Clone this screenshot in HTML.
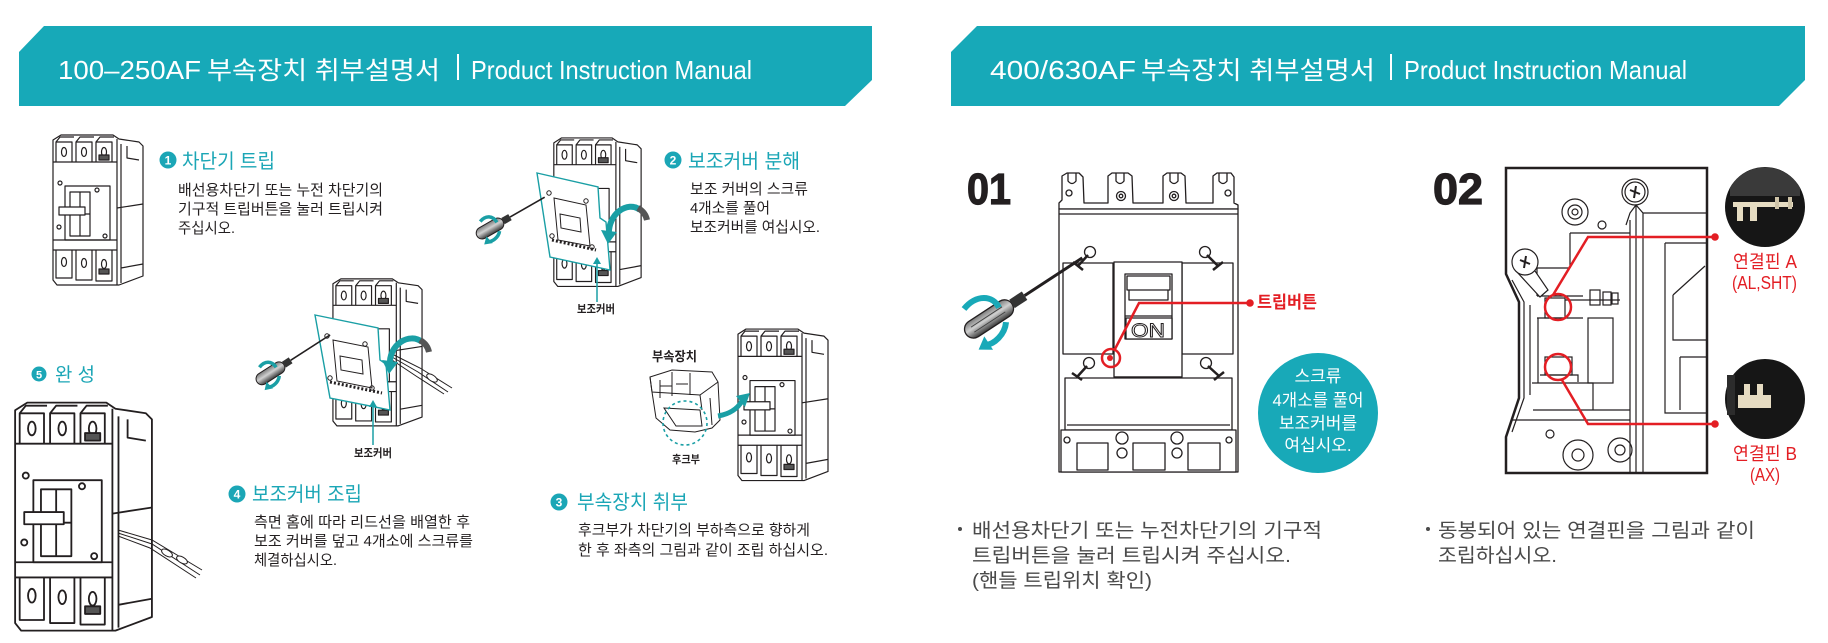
<!DOCTYPE html>
<html><head><meta charset="utf-8">
<style>
html,body{margin:0;padding:0;background:#fff;width:1828px;height:643px;overflow:hidden}
svg{display:block}
text{font-family:"Liberation Sans","Noto Sans CJK KR",sans-serif}
</style></head>
<body>
<svg width="1828" height="643" viewBox="0 0 1828 643" xmlns="http://www.w3.org/2000/svg">
<defs>
<linearGradient id="hg" x1="0" y1="0" x2="0" y2="1">
<stop offset="0" stop-color="#7a7a7a"/><stop offset="0.45" stop-color="#d0d0d0"/><stop offset="1" stop-color="#3a3a3a"/>
</linearGradient>
<g id="brk" fill="none" stroke="#231f20" stroke-width="1.2" stroke-linejoin="round">
<path fill="#fff" d="M6,12 L14,7 L66,7 L72,11 L92,14 L96,18 L96,148 L72,157 L10,157 L6,152 Z"/>
<path d="M70,11 L70,157 M6,34 L70,34 M6,112 L70,112 M6,122 L70,122"/>
<path d="M9,34 L9,14 L25,14 L25,34 M29,34 L29,14 L45,14 L45,34 M49,34 L49,14 L65,14 L65,34"/>
<path d="M9,14 L13,9 L27,9 M29,14 L33,9 L47,9 M49,14 L53,9 L67,9"/>
<ellipse cx="17" cy="24" rx="2.5" ry="4.5"/><ellipse cx="37" cy="24" rx="2.5" ry="4.5"/><ellipse cx="57" cy="24" rx="2.5" ry="4.5"/>
<rect x="18" y="58" width="45" height="54"/>
<rect x="23" y="64" width="20" height="44"/>
<path d="M23,86 L43,86 M33,64 L33,108"/>
<rect x="12" y="79" width="26" height="8" fill="#fff"/>
<circle cx="13" cy="55" r="2"/><circle cx="50" cy="62" r="2"/><circle cx="12" cy="99" r="2"/><circle cx="58" cy="108" r="2"/>
<path d="M9,122 L9,150 L25,150 L25,122 M29,122 L29,152 L45,152 L45,122 M49,122 L49,153 L65,153 L65,122"/>
<ellipse cx="17" cy="134" rx="2.5" ry="4.5"/><ellipse cx="37" cy="135" rx="2.5" ry="4.5"/><ellipse cx="57" cy="136" rx="2.5" ry="4.5"/>
<path d="M70,80 L96,76 M74,16 L74,155 M80,18 L80,30 L92,32 M74,140 L96,136"/>
<rect x="52" y="27" width="10" height="5" fill="#555"/>
<rect x="52" y="141" width="10" height="5" fill="#555"/>
</g>
</defs>

<!-- Banners -->
<path d="M44,26 L872,26 L872,80 L845,106 L19,106 L19,52 Z" fill="#17a9b8"/>
<path d="M977,26 L1805,26 L1805,80 L1779,106 L951,106 L951,52 Z" fill="#17a9b8"/>
<g fill="#fff" font-size="26">
<text x="58" y="79" textLength="143" lengthAdjust="spacingAndGlyphs">100–250AF</text>
<text x="207" y="79" font-size="25" textLength="233" lengthAdjust="spacingAndGlyphs">부속장치 취부설명서</text>
<rect x="457" y="54" width="2" height="26"/>
<text x="471" y="79" textLength="281" lengthAdjust="spacingAndGlyphs">Product Instruction Manual</text>
<text x="990" y="79" textLength="146" lengthAdjust="spacingAndGlyphs">400/630AF</text>
<text x="1141" y="79" font-size="25" textLength="234" lengthAdjust="spacingAndGlyphs">부속장치 취부설명서</text>
<rect x="1390" y="54" width="2" height="26"/>
<text x="1404" y="79" textLength="283" lengthAdjust="spacingAndGlyphs">Product Instruction Manual</text>
</g>

<!-- Breakers left -->
<use href="#brk" transform="translate(47,128)"/>
<use href="#brk" transform="translate(548,131) scale(0.97,0.99)"/>
<use href="#brk" transform="translate(732,322) scale(1,1.01)"/>
<use href="#brk" transform="translate(327,272) scale(0.99,0.98)"/>
<use href="#brk" transform="translate(6,392) scale(1.52,1.52)"/>

<!-- breaker 5 wires -->
<g fill="none" stroke="#231f20" stroke-width="1">
<path d="M118,530 L152,540 L202,570 M118,533 L152,544 L200,575 M118,536 L150,548 L196,578"/>
<ellipse cx="167" cy="553" rx="6" ry="3" transform="rotate(30 167 553)" fill="#fff"/>
<ellipse cx="182" cy="560" rx="6" ry="3" transform="rotate(30 182 560)" fill="#fff"/>
</g>

<!-- breaker 2 plate -->
<polygon points="537,173 598,187 600,218 606,222 610,270 550,257" fill="#fff" stroke="#1a9fa5" stroke-width="1.4"/>
<g fill="none" stroke="#231f20" stroke-width="1">
<polygon points="554,198 586,205 590,246 558,240"/>
<path d="M560,214 L580,218 L581,232 L561,228 Z"/>
<path d="M552,240 L596,250" stroke-width="3" stroke-dasharray="2,2"/>
<circle cx="549" cy="193" r="2.2"/><circle cx="586" cy="201" r="2.2"/><circle cx="552" cy="236" r="2.2"/><circle cx="592" cy="247" r="2.2"/>
</g>
<path d="M597,260 L597,302" stroke="#1a9fa5" stroke-width="1.5"/>
<polygon points="593,264 601,264 597,257" fill="#1a9fa5"/>
<!-- breaker 2 curved arrow -->
<path d="M609,236 C607,214 628,200 640,210" fill="none" stroke="#1a9fa5" stroke-width="6"/>
<path d="M638,208 C643,211 646,215 647,220" fill="none" stroke="#555" stroke-width="6"/>
<polygon points="601,230 617,232 608,244" fill="#1a9fa5"/>
<!-- breaker 2 screwdriver -->
<g transform="translate(477,236) rotate(-29.8)">
<rect x="0" y="-6" width="30" height="12" rx="6" fill="url(#hg)" stroke="#231f20" stroke-width="1"/>
<rect x="30" y="-3.5" width="8" height="7" fill="#333"/>
<line x1="38" y1="0" x2="78" y2="0" stroke="#231f20" stroke-width="1.6"/>
<path d="M10,-11 C18,-14 24,-10 24,-2" fill="none" stroke="#1a9fa5" stroke-width="3.5"/>
<path d="M22,7 C18,12 10,13 6,10" fill="none" stroke="#1a9fa5" stroke-width="3.5"/>
<polygon points="8,5 2,11 10,14" fill="#1a9fa5"/>
</g>
<!-- label 보조커버 -->
<text x="577" y="313" font-size="11.5" font-weight="bold" fill="#231f20" textLength="38" lengthAdjust="spacingAndGlyphs">보조커버</text>

<!-- breaker 4 plate -->
<polygon points="315,315 378,328 380,360 386,364 390,410 330,398" fill="#fff" stroke="#1a9fa5" stroke-width="1.4"/>
<g fill="none" stroke="#231f20" stroke-width="1">
<polygon points="333,340 368,347 372,388 337,381"/>
<path d="M340,356 L362,360 L363,374 L341,370 Z"/>
<path d="M330,382 L382,393" stroke-width="3" stroke-dasharray="2,2"/>
<circle cx="327" cy="336" r="2.2"/><circle cx="365" cy="344" r="2.2"/><circle cx="330" cy="378" r="2.2"/><circle cx="372" cy="388" r="2.2"/>
<path d="M392,354 L420,368 L452,388 M392,357 L418,372 L448,392 M392,360 L416,376 L444,394"/>
<ellipse cx="432" cy="378" rx="6" ry="3" transform="rotate(33 432 378)" fill="#fff"/>
</g>
<path d="M373,403 L373,445" stroke="#1a9fa5" stroke-width="1.5"/>
<polygon points="369,407 377,407 373,400" fill="#1a9fa5"/>
<path d="M390,366 C388,344 410,332 422,342" fill="none" stroke="#1a9fa5" stroke-width="6"/>
<path d="M420,340 C425,343 428,347 429,352" fill="none" stroke="#555" stroke-width="6"/>
<polygon points="382,360 398,362 389,374" fill="#1a9fa5"/>
<g transform="translate(257,382) rotate(-32.8)">
<rect x="0" y="-6" width="32" height="12" rx="6" fill="url(#hg)" stroke="#231f20" stroke-width="1"/>
<rect x="32" y="-3.5" width="8" height="7" fill="#333"/>
<line x1="40" y1="0" x2="87" y2="0" stroke="#231f20" stroke-width="1.6"/>
<path d="M10,-11 C18,-14 24,-10 24,-2" fill="none" stroke="#1a9fa5" stroke-width="3.5"/>
<path d="M22,7 C18,12 10,13 6,10" fill="none" stroke="#1a9fa5" stroke-width="3.5"/>
<polygon points="8,5 2,11 10,14" fill="#1a9fa5"/>
</g>
<text x="354" y="457" font-size="11.5" font-weight="bold" fill="#231f20" textLength="38" lengthAdjust="spacingAndGlyphs">보조커버</text>

<!-- accessory (step 3) -->
<text x="652" y="361" font-size="13" font-weight="bold" fill="#231f20" textLength="45" lengthAdjust="spacingAndGlyphs">부속장치</text>
<g fill="#fff" stroke="#231f20" stroke-width="1">
<polygon points="650,377 672,370 712,372 718,382 720,420 712,428 695,432 670,430 656,418 652,392"/>
<path d="M650,377 L652,392 L700,395 L718,382 M660,380 L660,398 M672,372 L672,396 M690,373 L690,395 M660,386 L672,386 M676,384 L688,384" fill="none"/>
<path d="M664,408 L700,410 L702,426 L676,426 Z"/>
<path d="M700,395 L702,410 M710,398 L712,425" fill="none"/>
</g>
<circle cx="685" cy="423" r="22" fill="none" stroke="#1a9fa5" stroke-width="1.6" stroke-dasharray="3,3"/>
<path d="M718,416 C730,414 738,408 742,401" fill="none" stroke="#1a9fa5" stroke-width="5"/>
<polygon points="736,396 750,393 745,407" fill="#1a9fa5"/>
<text x="672" y="463" font-size="11" font-weight="bold" fill="#231f20" textLength="28" lengthAdjust="spacingAndGlyphs">후크부</text>

<!-- step titles -->
<g fill="#1ba6b6" font-size="20">
<circle cx="168" cy="160" r="8.5"/><circle cx="673" cy="160" r="8.5"/><circle cx="559" cy="502" r="8.5"/><circle cx="237" cy="494" r="8.5"/><circle cx="39" cy="374" r="7.5"/>
<text x="182" y="168" textLength="93" lengthAdjust="spacingAndGlyphs">차단기 트립</text>
<text x="688" y="168" textLength="112" lengthAdjust="spacingAndGlyphs">보조커버 분해</text>
<text x="577" y="509" textLength="111" lengthAdjust="spacingAndGlyphs">부속장치 취부</text>
<text x="252" y="501" textLength="110" lengthAdjust="spacingAndGlyphs">보조커버 조립</text>
<text x="55" y="381" font-size="19" textLength="40" lengthAdjust="spacingAndGlyphs">완 성</text>
</g>
<g fill="#fff" font-size="12" font-weight="bold" text-anchor="middle">
<text x="168" y="164.5">1</text><text x="673" y="164.5">2</text><text x="559" y="506.5">3</text><text x="237" y="498.5">4</text><text x="39" y="378.5" font-size="11">5</text>
</g>

<!-- body texts -->
<g fill="#231f20" font-size="15">
<text x="178" y="195" textLength="205" lengthAdjust="spacingAndGlyphs">배선용차단기 또는 누전 차단기의</text>
<text x="178" y="214" textLength="205" lengthAdjust="spacingAndGlyphs">기구적 트립버튼을 눌러 트립시켜</text>
<text x="178" y="233" textLength="57" lengthAdjust="spacingAndGlyphs">주십시오.</text>
<text x="690" y="194" textLength="118" lengthAdjust="spacingAndGlyphs">보조 커버의 스크류</text>
<text x="690" y="213" textLength="80" lengthAdjust="spacingAndGlyphs">4개소를 풀어</text>
<text x="690" y="232" textLength="130" lengthAdjust="spacingAndGlyphs">보조커버를 여십시오.</text>
<text x="578" y="535" textLength="232" lengthAdjust="spacingAndGlyphs">후크부가 차단기의 부하측으로 향하게</text>
<text x="578" y="555" textLength="250" lengthAdjust="spacingAndGlyphs">한 후 좌측의 그림과 같이 조립 하십시오.</text>
<text x="254" y="527" textLength="216" lengthAdjust="spacingAndGlyphs">측면 홈에 따라 리드선을 배열한 후</text>
<text x="254" y="546" textLength="219" lengthAdjust="spacingAndGlyphs">보조 커버를 덮고 4개소에 스크류를</text>
<text x="254" y="565" textLength="83" lengthAdjust="spacingAndGlyphs">체결하십시오.</text>
</g>

<!-- 01 -->
<text x="967" y="204" font-size="44" font-weight="bold" fill="#231f20" stroke="#231f20" stroke-width="1.2" textLength="44" lengthAdjust="spacingAndGlyphs">01</text>
<g fill="#fff" stroke="#231f20" stroke-width="1.3" stroke-linejoin="round">
<path d="M1059,209 L1059,203 L1062,200 L1062,176 L1067,173 L1079,173 L1083,177 L1084,203 L1108,203 L1108,176 L1112,173 L1128,173 L1132,176 L1133,203 L1163,203 L1163,176 L1167,173 L1181,173 L1185,176 L1186,203 L1213,203 L1213,176 L1217,173 L1231,173 L1234,177 L1234,203 L1238,205 L1238,209 Z"/>
<path d="M1068,173 L1068,181 Q1072,186 1076,181 L1076,173 M1116,173 L1116,181 Q1120,186 1124,181 L1124,173 M1170,173 L1170,181 Q1174,186 1178,181 L1178,173 M1219,173 L1219,181 Q1223,186 1227,181 L1227,173" fill="none"/>
<circle cx="1121" cy="196" r="4.5"/><circle cx="1121" cy="196" r="1.8"/><circle cx="1174" cy="196" r="4.5"/><circle cx="1174" cy="196" r="1.8"/>
<circle cx="1069" cy="193" r="3"/><circle cx="1228" cy="193" r="3"/>
<rect x="1059" y="209" width="179" height="263"/>
<path d="M1059,214 L1238,214" fill="none"/>
<rect x="1063" y="263" width="50" height="91"/>
<rect x="1182" y="263" width="51" height="91"/>
<rect x="1114" y="262" width="68" height="115"/>
<rect x="1125" y="274" width="47" height="65"/>
<rect x="1127" y="276" width="43" height="14"/>
<path d="M1129,290 L1129,300 L1168,300 L1168,290 M1125,316 L1172,316" fill="none"/>
<rect x="1126" y="318" width="46" height="21"/>
<rect x="1065" y="378" width="167" height="52"/>
<path d="M1067,425 L1230,425 M1114,377 L1182,377" fill="none"/>
<rect x="1061" y="430" width="175" height="42"/>
<rect x="1077" y="443" width="31" height="27"/>
<rect x="1133" y="443" width="32" height="27"/>
<rect x="1188" y="443" width="32" height="27"/>
<circle cx="1122" cy="438" r="6"/><circle cx="1122" cy="453" r="5"/><circle cx="1177" cy="438" r="6"/><circle cx="1177" cy="453" r="5"/>
<circle cx="1067" cy="440" r="3"/><circle cx="1229" cy="440" r="3"/>
<circle cx="1090" cy="252" r="5.5"/><circle cx="1205" cy="252" r="5.5"/><circle cx="1089" cy="363" r="5.5"/><circle cx="1206" cy="363" r="5.5"/>
<path d="M1088,255 L1078,266 M1073,262 L1083,270 M1207,255 L1218,266 M1213,270 L1223,262 M1087,366 L1077,377 M1072,373 L1082,380 M1208,366 L1219,376 M1214,380 L1224,372" fill="none" stroke-width="2.5"/>
</g>
<text x="1131" y="337" font-size="19" fill="#fff" stroke="#231f20" stroke-width="0.9" textLength="34" lengthAdjust="spacingAndGlyphs">ON</text>
<!-- screwdriver 01 -->
<g transform="translate(966,334) rotate(-33.2)">
<rect x="0" y="-9" width="55" height="18" rx="9" fill="url(#hg)" stroke="#231f20" stroke-width="1.3"/>
<path d="M8,-3 L45,-3 M8,3 L45,3" stroke="#444" stroke-width="1"/>
<rect x="55" y="-5" width="15" height="10" fill="#333"/>
<line x1="70" y1="0" x2="139" y2="0" stroke="#231f20" stroke-width="3"/>
<path d="M12,-22 C30,-28 44,-18 42,-4" fill="none" stroke="#18a9b8" stroke-width="6"/>
<path d="M40,12 C32,22 18,24 10,20" fill="none" stroke="#18a9b8" stroke-width="6"/>
<polygon points="14,12 2,20 14,28" fill="#18a9b8"/>
</g>
<!-- red trip -->
<g stroke="#e31e24" stroke-width="2.5" fill="none">
<circle cx="1111" cy="358" r="9"/>
<path d="M1115,349 L1139,303 L1250,303"/>
</g>
<circle cx="1110" cy="358" r="3" fill="#e31e24"/>
<circle cx="1250" cy="303" r="3.8" fill="#e31e24"/>
<text x="1257" y="308" font-size="17" font-weight="bold" fill="#e31e24" textLength="60" lengthAdjust="spacingAndGlyphs">트립버튼</text>
<!-- teal circle -->
<circle cx="1318" cy="413" r="60" fill="#18a9b8"/>
<g fill="#fff" font-size="17" text-anchor="middle">
<text x="1318" y="382">스크류</text>
<text x="1318" y="406" textLength="91" lengthAdjust="spacingAndGlyphs">4개소를 풀어</text>
<text x="1318" y="429">보조커버를</text>
<text x="1318" y="451">여십시오.</text>
</g>

<!-- 02 -->
<text x="1433" y="204" font-size="44" font-weight="bold" fill="#231f20" stroke="#231f20" stroke-width="1.2" textLength="50" lengthAdjust="spacingAndGlyphs">02</text>
<path d="M1506,168 L1707,168 L1707,473 L1506,473 L1506,437 L1519,398 L1519,302 L1506,274 Z" fill="#fff" stroke="#231f20" stroke-width="2.5"/>
<g fill="none" stroke="#231f20" stroke-width="1.2">
<path d="M1512,280 L1524,302 L1524,398 L1512,432 M1530,305 L1530,395"/>
<path d="M1630,220 L1630,473 M1636,205 L1636,473 M1643,213 L1643,473 M1626,225 L1630,213 L1636,205 L1643,213 L1707,213"/>
<path d="M1665,243 L1707,243 M1665,243 L1665,413 L1707,413 M1673,295 L1705,266 M1673,295 L1673,340 L1707,340 M1680,357 L1707,357 M1680,357 L1680,410"/>
<path d="M1570,233 L1630,233 M1570,233 L1570,268 M1537,268 L1570,268 M1537,268 L1537,296 M1537,296 L1583,296 M1537,318 L1583,318 M1538,318 L1538,383 M1532,383 L1593,383 L1593,410 M1533,410 L1630,410 M1512,420 L1630,420"/>
<path d="M1565,300 L1620,300"/>
<rect x="1590" y="290" width="10" height="15"/><rect x="1603" y="292" width="8" height="13"/><rect x="1612" y="293" width="6" height="11"/>
<rect x="1588" y="318" width="25" height="65"/>
<rect x="1545" y="298" width="20" height="20"/>
<rect x="1545" y="357" width="27" height="18"/>
<path d="M1540,375 L1578,375 L1578,382"/>
<circle cx="1635" cy="192" r="13"/><circle cx="1635" cy="192" r="10"/>
<path d="M1630,190 L1640,194 M1636,186 L1634,198" stroke-width="2"/>
<circle cx="1575" cy="212" r="13"/><circle cx="1575" cy="212" r="7"/><circle cx="1575" cy="212" r="3"/>
<circle cx="1602" cy="225" r="4"/>
<polygon points="1517,272 1533,268 1548,290 1540,297" fill="#fff"/>
<circle cx="1525" cy="262" r="13" fill="#fff"/>
<path d="M1520,260 L1530,264 M1526,256 L1524,268" stroke-width="2"/>
<circle cx="1578" cy="455" r="15"/><circle cx="1578" cy="455" r="6"/>
<circle cx="1620" cy="450" r="12"/><circle cx="1620" cy="450" r="5"/>
<circle cx="1550" cy="434" r="4"/>
</g>
<g stroke="#e31e24" stroke-width="2.5" fill="none">
<circle cx="1558" cy="307" r="13"/>
<circle cx="1558" cy="367" r="13"/>
<path d="M1553,295 L1588,237 L1715,237 M1562,380 L1588,424 L1715,424"/>
</g>
<circle cx="1715" cy="237" r="3.8" fill="#e31e24"/>
<circle cx="1715" cy="424" r="3.8" fill="#e31e24"/>
<!-- photos -->
<circle cx="1765" cy="207" r="40" fill="#161616"/>
<path d="M1730,188 A40,40 0 0 1 1800,188 L1800,196 L1730,196 Z" fill="#3a3a3a"/>
<rect x="1733" y="202" width="60" height="5" fill="#e6dcc2"/>
<rect x="1737" y="206" width="6" height="15" fill="#e6dcc2"/>
<rect x="1750" y="206" width="7" height="15" fill="#e6dcc2"/>
<rect x="1775" y="197" width="4" height="12" fill="#cfc4a8"/>
<rect x="1788" y="197" width="4" height="12" fill="#cfc4a8"/>
<circle cx="1765" cy="399" r="40" fill="#161616"/>
<rect x="1727" y="375" width="8" height="40" fill="#2c2c2c"/>
<rect x="1738" y="395" width="33" height="13" fill="#e6dcc2"/>
<rect x="1744" y="384" width="6" height="12" fill="#e6dcc2"/>
<rect x="1757" y="384" width="6" height="12" fill="#e6dcc2"/>
<g fill="#e31e24" font-size="18">
<text x="1733" y="268" textLength="64" lengthAdjust="spacingAndGlyphs">연결핀 A</text>
<text x="1732" y="289" textLength="65" lengthAdjust="spacingAndGlyphs">(AL,SHT)</text>
<text x="1733" y="460" textLength="64" lengthAdjust="spacingAndGlyphs">연결핀 B</text>
<text x="1750" y="481" textLength="30" lengthAdjust="spacingAndGlyphs">(AX)</text>
</g>

<!-- bottom bullets -->
<circle cx="960" cy="529" r="2" fill="#4a4a4a"/>
<circle cx="1428" cy="529" r="2" fill="#4a4a4a"/>
<g fill="#4a4a4a" font-size="19.5">
<text x="972" y="537" textLength="350" lengthAdjust="spacingAndGlyphs">배선용차단기 또는 누전차단기의 기구적</text>
<text x="972" y="562" textLength="319" lengthAdjust="spacingAndGlyphs">트립버튼을 눌러 트립시켜 주십시오.</text>
<text x="972" y="587" textLength="180" lengthAdjust="spacingAndGlyphs">(핸들 트립위치 확인)</text>
<text x="1438" y="537" textLength="317" lengthAdjust="spacingAndGlyphs">동봉되어 있는 연결핀을 그림과 같이</text>
<text x="1438" y="562" textLength="119" lengthAdjust="spacingAndGlyphs">조립하십시오.</text>
</g>
</svg>
</body></html>
